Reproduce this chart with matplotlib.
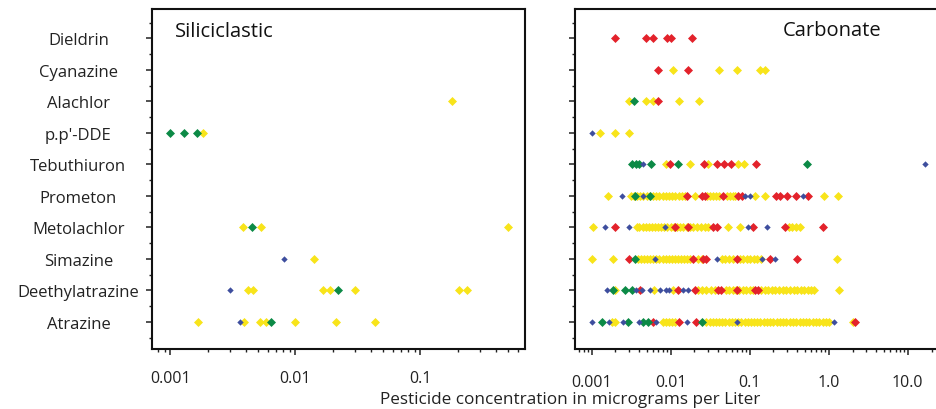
import matplotlib
matplotlib.use("Agg")
import matplotlib.pyplot as plt
from matplotlib.ticker import FixedLocator, FixedFormatter, LogLocator, NullFormatter
import numpy as np

plt.rcParams['font.family'] = ['Open Sans', 'DejaVu Sans']

# ---------------- data ----------------
pesticides = ["Atrazine", "Deethylatrazine", "Simazine", "Metolachlor", "Prometon",
              "Tebuthiuron", "p.p'-DDE", "Alachlor", "Cyanazine", "Dieldrin"]

sil_ticks = [0.001, 0.01, 0.1]
sil_tick_labels = ["0.001", "0.01", "0.1"]
carb_ticks = [0.001, 0.01, 0.1, 1.0, 10.0]
carb_tick_labels = ["0.001", "0.01", "0.1", "1.0", "10.0"]

# Siliciclastic aquifers (micrograms per liter)
sil_yellow = {
    "Alachlor": [0.178],
    "p.p'-DDE": [0.00182],
    "Metolachlor": [0.0038, 0.0053, 0.498],
    "Simazine": [0.014],
    "Deethylatrazine": [0.0042, 0.0046, 0.0167, 0.019, 0.030, 0.203, 0.235],
    "Atrazine": [0.00166, 0.00385, 0.00517, 0.00578, 0.010, 0.0213, 0.0435],
}
sil_red = {}
sil_green = {
    "p.p'-DDE": [0.001, 0.00128, 0.00164],
    "Metolachlor": [0.00452],
    "Deethylatrazine": [0.0221],
    "Atrazine": [0.00634],
}
sil_blue = {
    "Simazine": [0.0081],
    "Deethylatrazine": [0.003],
    "Atrazine": [0.00362],
}

# Carbonate aquifers (micrograms per liter)
carb_yellow = {
    "Cyanazine": [0.0107, 0.0405, 0.0684, 0.136, 0.156],
    "Alachlor": [0.003, 0.0049, 0.0059, 0.0127, 0.0226],
    "p.p'-DDE": [0.00127, 0.002, 0.003],
    "Tebuthiuron": [0.0088, 0.0176, 0.0299, 0.0704, 0.0855],
    "Prometon": [0.00162, 0.0031, 0.0034, 0.0037, 0.0041, 0.0045, 0.005, 0.0055,
                 0.006, 0.0066, 0.0072, 0.008, 0.0088, 0.0096, 0.0105, 0.0115,
                 0.0126, 0.014, 0.0152, 0.0204, 0.0285, 0.031, 0.034, 0.037,
                 0.041, 0.051, 0.056, 0.062, 0.066, 0.116, 0.156, 0.88, 1.32],
    "Metolachlor": [0.00103, 0.0037, 0.004, 0.0044, 0.0048, 0.0053, 0.0058, 0.0063,
                    0.0069, 0.0076, 0.0083, 0.0091, 0.010, 0.011, 0.012, 0.0132,
                    0.0145, 0.016, 0.0175, 0.019, 0.0215, 0.024, 0.027, 0.030,
                    0.0536, 0.0753, 0.31, 0.34, 0.38, 0.43],
    "Simazine": [0.001, 0.00188, 0.0039, 0.0042, 0.0046, 0.005, 0.0055, 0.006,
                 0.0066, 0.0072, 0.0079, 0.0086, 0.0094, 0.0103, 0.0112, 0.0123,
                 0.0135, 0.0148, 0.0162, 0.0177, 0.022, 0.025, 0.044, 0.049,
                 0.055, 0.062, 0.075, 0.083, 0.092, 0.102, 0.113, 0.125, 0.138, 1.26],
    "Deethylatrazine": [0.00198, 0.0062, 0.0106, 0.022, 0.025, 0.028, 0.032, 0.036,
                        0.050, 0.055, 0.061, 0.067, 0.074, 0.082, 0.090, 0.100,
                        0.110, 0.14, 0.156, 0.17, 0.19, 0.21, 0.235, 0.26, 0.29,
                        0.32, 0.36, 0.40, 0.44, 0.49, 0.54, 0.60, 0.66, 1.36],
    "Atrazine": [0.0018, 0.00197, 0.008, 0.0088, 0.0096, 0.0105, 0.0115, 0.028,
                 0.031, 0.034, 0.037, 0.041, 0.045, 0.049, 0.054, 0.059, 0.065,
                 0.071, 0.078, 0.086, 0.094, 0.103, 0.113, 0.124, 0.136, 0.150,
                 0.165, 0.18, 0.20, 0.22, 0.24, 0.265, 0.29, 0.32, 0.35, 0.39,
                 0.43, 0.47, 0.52, 0.57, 0.63, 0.69, 0.76, 0.84, 0.93, 1.0, 2.05],
}
carb_red = {
    "Dieldrin": [0.002, 0.0049, 0.0059, 0.009, 0.0101, 0.0186],
    "Cyanazine": [0.007, 0.0167],
    "Alachlor": [0.007],
    "Tebuthiuron": [0.0098, 0.0266, 0.0385, 0.0477, 0.058, 0.119],
    "Prometon": [0.016, 0.025, 0.027, 0.0463, 0.0718, 0.080, 0.213, 0.242, 0.294,
                 0.382, 0.542],
    "Metolachlor": [0.00197, 0.0113, 0.0167, 0.034, 0.039, 0.109, 0.28, 0.84],
    "Simazine": [0.003, 0.0193, 0.026, 0.028, 0.0685, 0.181, 0.394],
    "Deethylatrazine": [0.00409, 0.0125, 0.0203, 0.040, 0.043, 0.0685, 0.116, 0.128],
    "Atrazine": [0.0059, 0.0129, 0.0207, 2.12],
}
carb_green = {
    "Alachlor": [0.0034],
    "Tebuthiuron": [0.0032, 0.0036, 0.004, 0.0057, 0.0123, 0.53],
    "Prometon": [0.0035, 0.0055],
    "Simazine": [0.0035],
    "Deethylatrazine": [0.00188, 0.00264, 0.00321],
    "Atrazine": [0.00134, 0.00291, 0.0045, 0.0051, 0.0247],
}
carb_blue = {
    "p.p'-DDE": [0.001],
    "Tebuthiuron": [0.0045, 16.6],
    "Prometon": [0.0024, 0.0045, 0.087, 0.100, 0.469],
    "Metolachlor": [0.00147, 0.003, 0.0085, 0.096, 0.164],
    "Simazine": [0.0063, 0.0382, 0.142, 0.209],
    "Deethylatrazine": [0.00155, 0.00364, 0.0043, 0.00547, 0.0073, 0.0087, 0.0096,
                        0.0145, 0.0167],
    "Atrazine": [0.001, 0.00167, 0.00247, 0.00401, 0.0066, 0.0162, 0.0685, 1.17],
}

COLORS = {"yellow": "#F8E41A", "red": "#E3222B", "green": "#0C8A46", "blue": "#3E4E9E"}

# ---------------- figure ----------------
W, H = 936, 410
fig = plt.figure(figsize=(W / 100, H / 100), dpi=100)
ax1 = fig.add_axes([152 / W, 60 / H, 373 / W, 340 / H])
ax2 = fig.add_axes([575 / W, 60 / H, 365 / W, 340 / H])


def draw(ax, yellow, red, green, blue):
    layers = [(yellow, COLORS["yellow"], 21, 2),
              (red, COLORS["red"], 21, 3),
              (green, COLORS["green"], 21, 3),
              (blue, COLORS["blue"], 10.5, 4)]
    for data, col, s, z in layers:
        for name, vals in data.items():
            yv = [pesticides.index(name)] * len(vals)
            ax.scatter(vals, yv, marker="D", s=s, c=col, linewidths=0, zorder=z)


draw(ax1, sil_yellow, sil_red, sil_green, sil_blue)
draw(ax2, carb_yellow, carb_red, carb_green, carb_blue)

for ax, ticks, labels, xlim, pad in [(ax1, sil_ticks, sil_tick_labels, (0.000713, 0.687), 11),
                                     (ax2, carb_ticks, carb_tick_labels, (0.000615, 25.6), 14)]:
    ax.set_xscale("log")
    ax.set_xlim(*xlim)
    ax.set_ylim(-0.856, 9.93)
    ax.xaxis.set_major_locator(FixedLocator(ticks))
    ax.xaxis.set_major_formatter(FixedFormatter(labels))
    ax.xaxis.set_minor_locator(LogLocator(base=10, subs=np.arange(2, 10), numticks=20))
    ax.xaxis.set_minor_formatter(NullFormatter())
    ax.yaxis.set_major_locator(FixedLocator(list(range(len(pesticides)))))
    ax.yaxis.set_minor_locator(FixedLocator([i - 0.5 for i in range(len(pesticides) + 1)]))
    ax.tick_params(axis="both", which="major", direction="out", length=4, width=1.1,
                   labelsize=11.5, color="#222222")
    ax.tick_params(axis="both", which="minor", direction="out", length=2.2, width=1.0,
                   color="#222222")
    ax.tick_params(axis="x", which="major", pad=pad)
    for sp in ax.spines.values():
        sp.set_linewidth(1.5)
        sp.set_color("#111111")

ax1.set_yticklabels(pesticides, ha="center", fontsize=12, color="#222222")
ax1.tick_params(axis="y", which="major", pad=49)
ax2.set_yticklabels([])
for lbl in ax1.get_xticklabels() + ax2.get_xticklabels():
    lbl.set_color("#222222")

ax1.text(0.0617, 0.935, "Siliciclastic", transform=ax1.transAxes, fontsize=14.5,
         va="center", ha="left", color="#111111")
ax2.text(0.570, 0.938, "Carbonate", transform=ax2.transAxes, fontsize=14.5,
         va="center", ha="left", color="#111111")

fig.text(570 / W, 1 - 400 / H, "Pesticide concentration in micrograms per Liter",
         ha="center", va="center", fontsize=12.3, color="#222222")

fig.savefig("out.png", dpi=100)
